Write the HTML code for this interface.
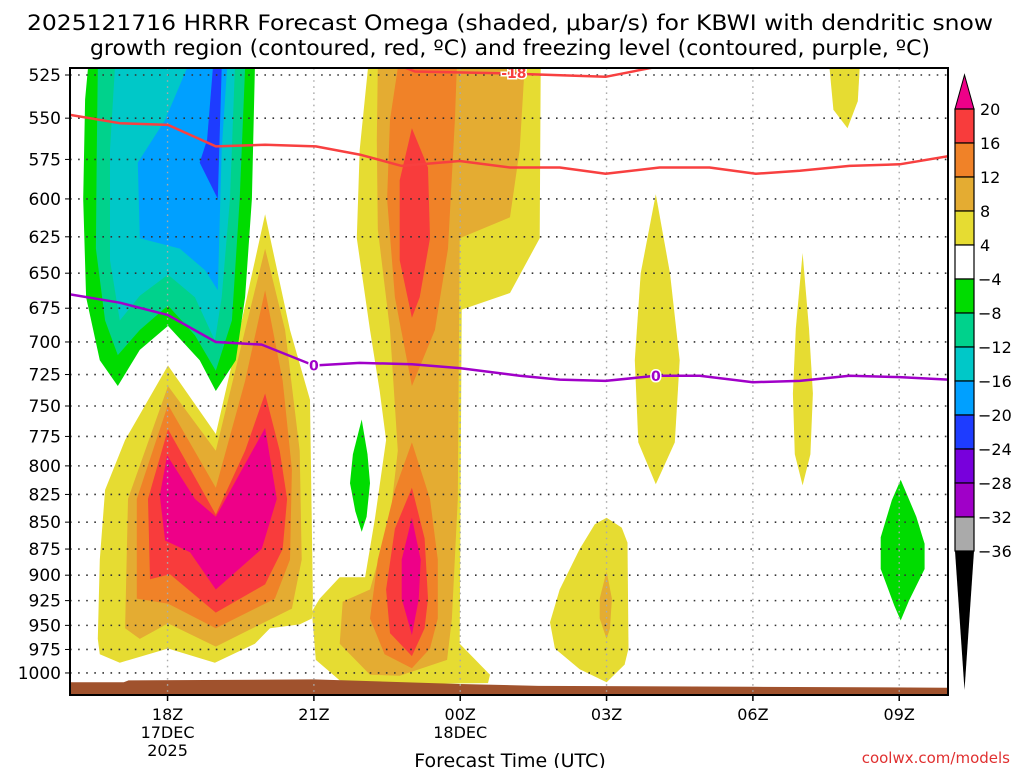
<!DOCTYPE html>
<html><head><meta charset="utf-8"><style>
body{margin:0;background:#fff;}
svg{display:block;font-family:"DejaVu Sans","Liberation Sans",sans-serif;}
</style></head><body>
<svg id="chart" width="1024" height="768" viewBox="0 0 1024 768" xmlns="http://www.w3.org/2000/svg">
<text x="510" y="30" font-size="21" text-anchor="middle" textLength="966" lengthAdjust="spacingAndGlyphs">2025121716 HRRR Forecast Omega (shaded, μbar/s) for KBWI with dendritic snow</text>
<text x="510" y="55" font-size="21" text-anchor="middle" textLength="840" lengthAdjust="spacingAndGlyphs">growth region (contoured, red, ºC) and freezing level (contoured, purple, ºC)</text>
<g id="fills"></g>
<g id="grid"></g>
<g id="lines"></g>
<g id="axes"></g>
<g id="cbar"></g>
<text x="510" y="767" font-size="19" text-anchor="middle">Forecast Time (UTC)</text>
<text x="1010" y="763" font-size="15" fill="#e03030" text-anchor="end">coolwx.com/models</text>
</svg>
<script>
// axis data
const pressureTicks=[525,550,575,600,625,650,675,700,725,750,775,800,825,850,875,900,925,950,975,1000];
const timeTickHours=[2,5,8,11,14,17];
const timeTickLabels=["18Z","21Z","00Z","03Z","06Z","09Z"];
const dateLabels=[["17DEC","2025"],["","" ],["18DEC",""],["",""],["",""],["",""]];
const cbarLevels=[20,16,12,8,4,-4,-8,-12,-16,-20,-24,-28,-32,-36];
const cbarColors=["#f83c3c","#f08228","#e4ac32","#e6dc32","#ffffff","#00dc00","#00d28c","#00c8c8","#00a0ff","#1e3cff","#7800dc","#a000c8","#aaaaaa"];
// shaded regions: [hour since 16Z, pressure hPa]
const yellowL=[[0.57,964],[0.61,885],[0.72,821],[1.13,778],[2.01,718],[2.99,773],[3.48,691],[4.0,610],[4.51,691],[4.92,745],[4.98,923],[4.96,943],[4.71,949],[4.10,953],[3.79,969],[2.97,989],[2.01,974],[1.02,989],[0.61,980]];
const goldL=[[1.13,953],[1.19,829],[2.01,734],[2.99,787],[3.59,691],[4.0,633],[4.41,691],[4.71,787],[4.75,885],[4.55,933],[2.99,972],[2.01,948],[1.43,964]];
const orangeL=[[1.37,923],[1.37,829],[2.01,749],[2.99,819],[3.59,730],[4.0,662],[4.36,730],[4.55,803],[4.51,885],[4.20,923],[2.99,953],[2.01,928]];
const redL=[[1.64,904],[1.60,829],[2.01,769],[2.99,843],[3.59,787],[4.0,740],[4.30,787],[4.45,829],[4.36,875],[4.0,909],[2.99,937],[2.05,899]];
const magL=[[1.99,791],[1.84,826],[1.95,867],[2.46,878],[2.99,914],[3.93,875],[4.24,829],[4.0,768],[2.99,845],[2.56,829]];
const yellowC=[[6.11,521],[9.65,521],[9.63,626],[9.02,664],[8.03,676],[7.99,969],[8.61,1002],[8.57,1011],[6.76,1012],[5.53,1008],[5.04,986],[4.96,936],[5.12,923],[5.53,902],[6.05,902],[6.25,847],[6.48,778],[6.35,738],[6.15,691],[5.88,626],[5.94,569]];
const goldC=[[6.31,521],[9.32,521],[9.22,569],[9.02,612],[7.99,626],[7.95,829],[7.83,943],[7.73,986],[6.76,1003],[6.15,1002],[5.53,969],[5.59,926],[6.15,914],[6.56,847],[6.72,787],[6.56,691],[6.31,620],[6.29,563]];
const orangeU=[[6.72,521],[7.93,521],[7.89,551],[7.75,633],[7.48,691],[7.01,734],[6.66,667],[6.50,600],[6.56,551]];
const orangeLow=[[7.01,780],[7.38,829],[7.54,885],[7.54,943],[7.38,974],[7.01,995],[6.45,980],[6.15,943],[6.31,885],[6.66,821]];
const redU=[[7.01,556],[7.34,580],[7.38,626],[7.17,667],[7.01,682],[6.76,641],[6.76,588]];
const redLow=[[7.01,819],[7.27,865],[7.34,923],[7.27,953],[7.01,982],[6.56,958],[6.48,914],[6.66,856]];
const magC=[[7.01,846],[7.19,885],[7.15,923],[7.01,960],[6.80,923],[6.80,885]];
const lens1=[[12.01,597],[12.3,650],[12.5,714],[12.4,780],[12.01,816],[11.65,780],[11.58,714],[11.7,650]];
const lens2=[[15.02,636],[15.15,690],[15.23,740],[15.18,790],[15.02,817],[14.86,790],[14.82,740],[14.88,690]];
const yellowTR=[[15.57,521],[16.19,521],[16.15,540],[15.94,556],[15.65,545]];
const yellowBR=[[11.0,846],[11.31,855],[11.43,869],[11.45,974],[11.37,991],[11.0,1010],[10.45,996],[9.94,974],[9.84,947],[10.04,914],[10.45,875],[10.76,852]];
const goldBR=[[11.0,896],[11.11,923],[11.07,953],[11.0,964],[10.86,943],[10.86,923]];
const greenL=[[0.37,521],[3.79,521],[3.73,600],[3.59,667],[3.40,714],[2.99,738],[2.66,714],[2.01,688],[1.43,706],[0.98,734],[0.61,714],[0.33,667],[0.27,600],[0.31,539]];
const tealL=[[0.57,521],[3.59,521],[3.48,600],[3.32,684],[2.99,722],[2.56,695],[2.01,673],[1.43,691],[0.98,710],[0.72,684],[0.53,633],[0.55,569]];
const cyanL=[[0.92,521],[3.38,521],[3.28,600],[3.11,667],[2.97,699],[2.56,667],[2.01,651],[1.43,666],[1.02,684],[0.82,641],[0.82,569]];
const blueL=[[2.40,521],[3.22,521],[3.11,569],[3.03,662],[2.77,648],[2.25,633],[1.43,626],[1.39,577],[1.95,551]];
const darkBlueL=[[2.93,521],[3.11,521],[3.03,600],[2.66,577],[2.81,563]];
const greenS=[[5.98,761],[6.10,790],[6.15,815],[6.08,845],[5.98,859],[5.85,840],[5.74,815],[5.80,790]];
const greenR=[[17.03,812],[17.35,845],[17.52,870],[17.52,894],[17.2,925],[17.03,945],[16.9,930],[16.62,894],[16.62,864],[16.85,830]];
// contour lines
const dgzHours=[0,1.02,2.01,2.99,4.0,5.04,5.94,6.80,7.99,9.02,10.04,10.98,12.09,13.11,14.06,14.96,15.98,17.01,18];
const dgzPres=[548,553,554,567,566,567,572,579,576,580,580,584,580,580,584,582,579,578,573];
const dgzTopHours=[6.6,7.07,8.81,10.98,12.1];
const dgzTopPres=[518,523,524,526,520];
const frzHours=[0,1.02,2.01,2.99,3.93,5.0,5.94,7.01,7.99,9.22,10.04,10.98,12.01,12.91,14.0,14.96,15.98,17.01,18];
const frzPres=[665,671,680,700,702,718,716,717,720,726,729,730,726,726,731,730,726,727,729];
const groundHours=[0,1.1,1.2,5,8,9.6,14,18];
const groundPres=[1010,1010,1008,1007,1012,1014,1015,1016];

const L=70,R=948,T=68,B=695;
const X=h=>L+h*(R-L)/18;
const Y=p=>75+928*Math.log(p/525);
const NS="http://www.w3.org/2000/svg";
function mk(tag,parent){const e=document.createElementNS(NS,tag);parent.appendChild(e);return e;}
const fills=document.getElementById('fills');
const clip=mk('clipPath',document.getElementById('chart'));clip.id='pc';
const cr=mk('rect',clip);cr.setAttribute('x',L);cr.setAttribute('y',T);cr.setAttribute('width',R-L);cr.setAttribute('height',B-T);
fills.setAttribute('clip-path','url(#pc)');
function poly(pts,color,name){
  const e=mk('polygon',fills);
  
  
  e.setAttribute('points',pts.map(d=>X(d[0]).toFixed(1)+','+Y(d[1]).toFixed(1)).join(' '));
  e.setAttribute('fill',color);
}
const C={y:"#e6dc32",g:"#e4ac32",o:"#f08228",r:"#f83c3c",m:"#ee0088",gr:"#00dc00",te:"#00d28c",cy:"#00c8c8",bl:"#00a0ff",db:"#1e3cff"};
poly(yellowL,C.y,'omega-4-8-left');poly(yellowC,C.y,'omega-4-8-center');
poly(lens1,C.y,'omega-4-8-lens-03z');poly(lens2,C.y,'omega-4-8-lens-07z');poly(yellowTR,C.y,'omega-4-8-top-right');poly(yellowBR,C.y,'omega-4-8-bottom-03z');
poly(goldL,C.g,'omega-8-12-left');poly(goldC,C.g,'omega-8-12-center');poly(goldBR,C.g,'omega-8-12-03z');
poly(orangeL,C.o,'omega-12-16-left');poly(orangeU,C.o,'omega-12-16-center-upper');poly(orangeLow,C.o,'omega-12-16-center-lower');
poly(redL,C.r,'omega-16-20-left');poly(redU,C.r,'omega-16-20-center-upper');poly(redLow,C.r,'omega-16-20-center-lower');
poly(magL,C.m,'omega-20-plus-left');poly(magC,C.m,'omega-20-plus-center');
poly(greenL,C.gr,'omega-neg4-neg8-left');poly(tealL,C.te,'omega-neg8-neg12-left');poly(cyanL,C.cy,'omega-neg12-neg16-left');
poly(blueL,C.bl,'omega-neg16-neg20-left');poly(darkBlueL,C.db,'omega-neg20-neg24-left');
poly(greenS,C.gr,'omega-neg4-small-22z');poly(greenR,C.gr,'omega-neg4-09z');
// ground
const gpts=groundHours.map((h,i)=>[h,groundPres[i]]);gpts.push([18,1030],[0,1030]);
poly(gpts,"#a0522d",'ground');

const grid=document.getElementById('grid');
pressureTicks.forEach(p=>{const l=mk('line',grid);


l.setAttribute('x1',L);l.setAttribute('x2',R);l.setAttribute('y1',Y(p));l.setAttribute('y2',Y(p));
l.setAttribute('stroke','#333');l.setAttribute('stroke-width','1.6');l.setAttribute('stroke-dasharray','1.6 6.5');});
timeTickHours.forEach(h=>{const l=mk('line',grid);


l.setAttribute('x1',X(h));l.setAttribute('x2',X(h));l.setAttribute('y1',T);l.setAttribute('y2',B);
l.setAttribute('stroke','#aaa');l.setAttribute('stroke-width','1.4');l.setAttribute('stroke-dasharray','1.6 4.5');});

const lines=document.getElementById('lines');lines.setAttribute('clip-path','url(#pc)');
function pl(hs,ps,color,name){const e=mk('polyline',lines);


e.setAttribute('points',hs.map((h,i)=>X(h).toFixed(1)+','+Y(ps[i]).toFixed(1)).join(' '));
e.setAttribute('fill','none');e.setAttribute('stroke',color);e.setAttribute('stroke-width','2.5');e.setAttribute('stroke-linejoin','round');}
pl(dgzHours,dgzPres,'#f84040','dgz-minus18-line');
pl(dgzTopHours,dgzTopPres,'#f84040','dgz-minus18-top-line');
pl(frzHours,frzPres,'#a000c8','freezing-level-line');
function lab(t,h,p,color,name){const b=mk('rect',lines);


b.setAttribute('x',X(h)-t.length*5);b.setAttribute('y',Y(p)-7);b.setAttribute('width',t.length*10);b.setAttribute('height',14);b.setAttribute('fill','#fff');b.setAttribute('opacity','0');
const e=mk('text',lines);


e.textContent=t;e.setAttribute('x',X(h));e.setAttribute('y',Y(p)+5);e.setAttribute('font-size','14');e.setAttribute('font-weight','bold');e.setAttribute('fill',color);e.setAttribute('text-anchor','middle');e.setAttribute('stroke','#fff');e.setAttribute('stroke-width','3');e.setAttribute('paint-order','stroke');}
lab('0',5.0,718,'#a000c8','freezing-label-1');
lab('0',12.01,726,'#a000c8','freezing-label-2');
lab('-18',9.1,524,'#f84040','dgz-label');

const ax=document.getElementById('axes');
const fr=mk('rect',ax);


fr.setAttribute('x',L);fr.setAttribute('y',T);fr.setAttribute('width',R-L);fr.setAttribute('height',B-T);fr.setAttribute('fill','none');fr.setAttribute('stroke','#000');fr.setAttribute('stroke-width','2');
pressureTicks.forEach(p=>{const t=mk('text',ax);


t.textContent=p;t.setAttribute('x',61);t.setAttribute('y',Y(p)+6);t.setAttribute('font-size','17');t.setAttribute('text-anchor','end');
const k=mk('line',ax);


k.setAttribute('x1',L-5);k.setAttribute('x2',L);k.setAttribute('y1',Y(p));k.setAttribute('y2',Y(p));k.setAttribute('stroke','#000');});
timeTickHours.forEach((h,i)=>{const k=mk('line',ax);


k.setAttribute('x1',X(h));k.setAttribute('x2',X(h));k.setAttribute('y1',B);k.setAttribute('y2',B+6);k.setAttribute('stroke','#000');k.setAttribute('stroke-width','1.5');
[timeTickLabels[i],dateLabels[i][0],dateLabels[i][1]].forEach((s,j)=>{if(!s)return;const t=mk('text',ax);


t.textContent=s;t.setAttribute('x',X(h));t.setAttribute('y',720+j*18);t.setAttribute('font-size','16');t.setAttribute('text-anchor','middle');});});

const cb=document.getElementById('cbar');
const cx=955,cw=19,cTop=109,step=(551-109)/13;
const tri=mk('polygon',cb);


tri.setAttribute('points',`${cx},${cTop} ${cx+cw},${cTop} ${cx+cw/2},75`);tri.setAttribute('fill','#ee0088');tri.setAttribute('stroke','#000');
cbarColors.forEach((c,i)=>{const r=mk('rect',cb);


r.setAttribute('x',cx);r.setAttribute('y',cTop+i*step);r.setAttribute('width',cw);r.setAttribute('height',step);r.setAttribute('fill',c);r.setAttribute('stroke','#000');r.setAttribute('stroke-width','1.2');});
const tri2=mk('polygon',cb);


tri2.setAttribute('points',`${cx},551 ${cx+cw},551 ${cx+cw/2},690`);tri2.setAttribute('fill','#000');
cbarLevels.forEach((v,i)=>{const t=mk('text',cb);


t.textContent=(v<0?'\u2212'+(-v):v);t.setAttribute('x',v<0?978:980);t.setAttribute('y',cTop+i*step+6);t.setAttribute('font-size','16');});
</script>
</body></html>
